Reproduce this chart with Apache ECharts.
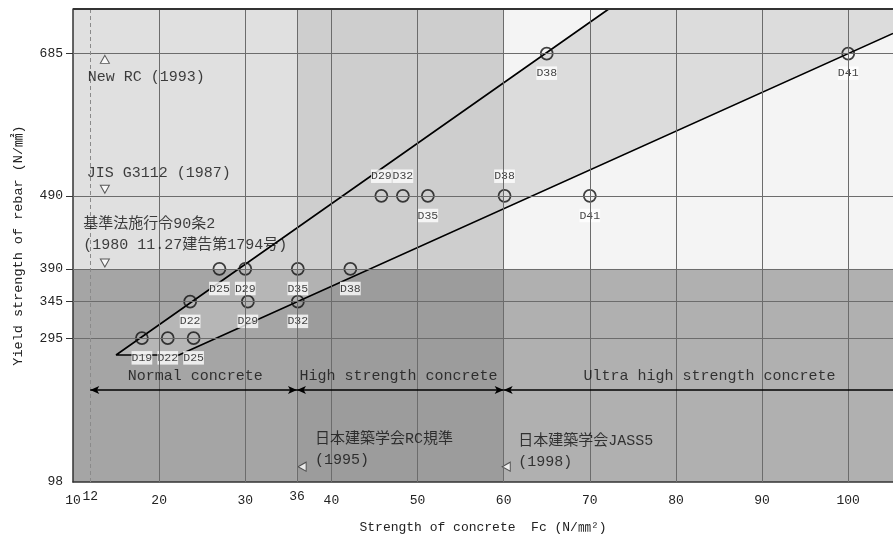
<!DOCTYPE html>
<html><head><meta charset="utf-8">
<script src="https://cdn.jsdelivr.net/npm/echarts@6/dist/echarts.min.js"></script>
<style>html,body{margin:0;padding:0;background:#fff}#c{width:893px;height:540px}</style>
</head><body><div id="c"></div>
<script>
// ---- axes ----
const xMin = 10, xMax = 105.2, yMin = 98, yMax = 746;
const xTickValues = [10, 12, 20, 30, 36, 40, 50, 60, 70, 80, 90, 100];
const xRaisedTicks = [12, 36];
const xGridValues = [20, 30, 36, 40, 50, 60, 70, 80, 90, 100];
const xDashedValues = [12];
const yTickValues = [98, 295, 345, 390, 490, 685];
const yGridValues = [295, 345, 390, 490, 685];

// ---- zones (columns) and row split ----
const zoneEdges = [10, 36, 60, 105.2];
const rowSplit = 390;
const upperColors = ['#e0e0e0', '#cecece', '#f4f4f4'];
const lowerColors = ['#a5a5a5', '#9c9c9c', '#b0b0b0'];
const bandUpperColors = ['#d2d2d2', '#cecece', '#dcdcdc'];
const bandLowerColors = ['#b6b6b6', '#b2b2b2', '#b4b4b4'];

// ---- band boundary lines ----
const upperLine = [[15, 272], [72.2, 746]];
const lowerLine = [[22.3, 272], [105.2, 712.6]];

// ---- rebar points ----
const rebarX = [18, 21, 24, 23.6, 27, 30, 30.3, 36.1, 36.1, 42.2, 45.8, 48.3, 51.2, 60.1, 70, 65, 100];
const rebarY = [295, 295, 295, 345, 390, 390, 345, 390, 345, 390, 490, 490, 490, 490, 490, 685, 685];
const rebarName = ['D19', 'D22', 'D25', 'D22', 'D25', 'D29', 'D29', 'D35', 'D32', 'D38', 'D29', 'D32', 'D35', 'D38', 'D41', 'D38', 'D41'];
const rebarLabelPos = ['bottom', 'bottom', 'bottom', 'bottom', 'bottom', 'bottom', 'bottom', 'bottom', 'bottom', 'bottom', 'top', 'top', 'bottom', 'top', 'bottom', 'bottom', 'bottom'];

// ---- standard markers (triangles) ----
const markerX = [13.7, 13.7, 13.7, 36.6, 60.3];
const markerY = [677, 499, 398, 119, 119];
const markerRotate = [0, 180, 180, 90, 90];

// ---- notes ----
const noteText = ['New RC (1993)', 'JIS G3112 (1987)', '基準法施行令90条2\n(1980 11.27建告第1794号)', '日本建築学会RC規準\n(1995)', '日本建築学会JASS5\n(1998)'];
const noteX = [11.7, 11.6, 11.2, 38.1, 61.7];
const noteY = [653, 521, 437, 142, 140];

// ---- concrete ranges ----
const rangeStart = [12, 36, 60];
const rangeEnd = [36, 60, 105.2];
const rangeEndArrow = [true, true, false];
const rangeY = 224;
const rangeLabel = ['Normal concrete', 'High strength concrete', 'Ultra high strength concrete'];
const rangeLabelX = [24.2, 47.8, 83.9];
const rangeLabelY = 243;

const FONT = "'Liberation Mono', 'Noto Sans CJK JP', monospace";

function clipPoly(poly, x0, x1, y0, y1) {
  const edges = [
    [p => p[0] >= x0, (a, b) => { const t = (x0 - a[0]) / (b[0] - a[0]); return [x0, a[1] + t * (b[1] - a[1])]; }],
    [p => p[0] <= x1, (a, b) => { const t = (x1 - a[0]) / (b[0] - a[0]); return [x1, a[1] + t * (b[1] - a[1])]; }],
    [p => p[1] >= y0, (a, b) => { const t = (y0 - a[1]) / (b[1] - a[1]); return [a[0] + t * (b[0] - a[0]), y0]; }],
    [p => p[1] <= y1, (a, b) => { const t = (y1 - a[1]) / (b[1] - a[1]); return [a[0] + t * (b[0] - a[0]), y1]; }]
  ];
  let out = poly;
  for (const [inside, inter] of edges) {
    const inp = out; out = [];
    for (let i = 0; i < inp.length; i++) {
      const cur = inp[i], prev = inp[(i + inp.length - 1) % inp.length];
      const ci = inside(cur), pi = inside(prev);
      if (ci) { if (!pi) out.push(inter(prev, cur)); out.push(cur); }
      else if (pi) out.push(inter(prev, cur));
    }
    if (!out.length) break;
  }
  return out;
}

const band = [upperLine[0], upperLine[1], [xMax, yMax], lowerLine[1], lowerLine[0]];
const shapes = [];
for (let i = 0; i < 3; i++) {
  const x0 = zoneEdges[i], x1 = zoneEdges[i + 1];
  const rows = [[yMin, rowSplit, lowerColors[i], bandLowerColors[i]], [rowSplit, yMax, upperColors[i], bandUpperColors[i]]];
  for (const [y0, y1, c, bc] of rows) {
    shapes.push({ pts: [[x0, y0], [x1, y0], [x1, y1], [x0, y1]], color: c });
    const b = clipPoly(band, x0, x1, y0, y1);
    if (b.length >= 3) shapes.push({ pts: b, color: bc });
  }
}

const gridMarks = [
  ...xGridValues.map(v => ({ xAxis: v })),
  ...yGridValues.map(v => ({ yAxis: v })),
  ...xDashedValues.map(v => ({ xAxis: v, lineStyle: { type: [4, 3], color: '#8a8a8a' } })),
  { yAxis: yMax, lineStyle: { color: '#333', width: 2 } }
];

const arrowMarks = rangeStart.map((s, i) => [
  { coord: [s, rangeY], symbol: 'arrow' },
  { coord: [rangeEnd[i], rangeY], symbol: rangeEndArrow[i] ? 'arrow' : 'none' }
]);

const chart = echarts.init(document.getElementById('c'));
chart.setOption({
  animation: false,
  backgroundColor: '#fff',
  grid: { left: 73, right: 0, top: 9, bottom: 58 },
  xAxis: {
    type: 'value', min: xMin, max: xMax,
    axisLine: { show: true, lineStyle: { color: '#333', width: 1.5 } },
    axisTick: { show: false },
    splitLine: { show: false },
    axisLabel: {
      customValues: xTickValues,
      margin: 8,
      color: '#222', fontSize: 13, fontFamily: FONT,
      formatter: v => xRaisedTicks.includes(v) ? '{r|' + v + '}' : '{n|' + v + '}',
      rich: { r: { fontSize: 13, fontFamily: FONT, color: '#222' }, n: { fontSize: 13, fontFamily: FONT, color: '#222', padding: [4, 0, 0, 0] } }
    },
    name: 'Strength of concrete  Fc (N/㎜²)',
    nameLocation: 'middle', nameGap: 39,
    nameTextStyle: { fontSize: 13, fontFamily: FONT, color: '#222' }
  },
  yAxis: {
    type: 'value', min: yMin, max: yMax,
    axisLine: { show: true, lineStyle: { color: '#333', width: 1.5 } },
    axisTick: { show: true, customValues: yGridValues, length: 7, lineStyle: { color: '#333' } },
    splitLine: { show: false },
    axisLabel: { customValues: yTickValues, margin: 10, color: '#222', fontSize: 13, fontFamily: FONT },
    name: 'Yield strength of rebar (N/㎟)',
    nameLocation: 'middle', nameGap: 48, nameRotate: 90,
    nameTextStyle: { fontSize: 13.5, fontFamily: FONT, color: '#222' }
  },
  series: [
    {
      type: 'custom', z: -1, silent: true, clip: true,
      data: shapes.map((s, i) => [s.pts[0][0], s.pts[0][1], i]),
      renderItem: (params, api) => {
        const s = shapes[params.dataIndex];
        return { type: 'polygon', shape: { points: s.pts.map(p => api.coord(p)) }, style: { fill: s.color } };
      }
    },
    {
      type: 'line', data: [], silent: true, z: 1,
      markLine: { silent: true, symbol: 'none', label: { show: false }, animation: false,
        lineStyle: { color: '#6c6c6c', width: 1, type: 'solid' }, data: gridMarks }
    },
    {
      type: 'line', silent: true, z: 3, symbol: 'none',
      lineStyle: { color: '#000', width: 1.6 },
      data: [lowerLine[1], lowerLine[0], upperLine[0], upperLine[1]]
    },
    {
      type: 'line', data: [], silent: true, z: 3,
      markLine: { silent: true, symbolSize: [6, 9], label: { show: false }, animation: false,
        lineStyle: { color: '#000', width: 1.6, type: 'solid' }, data: arrowMarks }
    },
    {
      type: 'scatter', z: 4, silent: true, symbol: 'circle', symbolSize: 12,
      itemStyle: { color: 'rgba(255,255,255,0)', borderColor: '#111', borderWidth: 1.8 },
      label: { show: true, formatter: p => p.name, backgroundColor: '#fff', padding: [1, 0, 1, 0],
        fontSize: 11.5, fontFamily: FONT, color: '#111', distance: 6 },
      data: rebarX.map((x, i) => ({ name: rebarName[i], value: [x, rebarY[i]], label: { position: rebarLabelPos[i] } }))
    },
    {
      type: 'scatter', z: 4, silent: true, symbol: 'triangle', symbolSize: [9, 8],
      itemStyle: { color: '#fff', borderColor: '#333', borderWidth: 1 },
      data: markerX.map((x, i) => ({ value: [x, markerY[i]], symbolRotate: markerRotate[i] }))
    },
    {
      type: 'scatter', z: 5, silent: true, symbolSize: 0,
      label: { show: true, position: 'right', distance: 0, align: 'left', fontSize: 15, lineHeight: 21,
        fontFamily: FONT, color: '#111', formatter: p => p.name },
      data: noteX.map((x, i) => ({ name: noteText[i], value: [x, noteY[i]] }))
    },
    {
      type: 'scatter', z: 5, silent: true, symbolSize: 0,
      label: { show: true, position: 'inside', fontSize: 15, fontFamily: FONT, color: '#111', formatter: p => p.name },
      data: rangeLabelX.map((x, i) => ({ name: rangeLabel[i], value: [x, rangeLabelY] }))
    }
  ]
});
</script></body></html>
